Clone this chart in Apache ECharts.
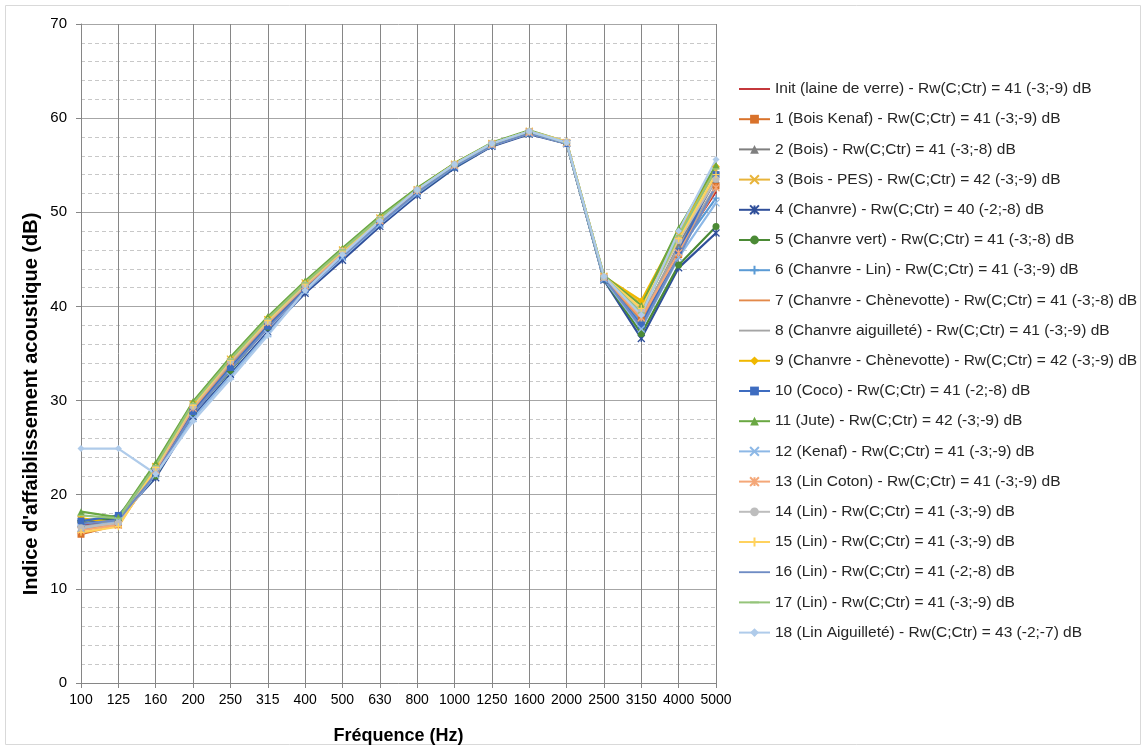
<!DOCTYPE html>
<html>
<head>
<meta charset="utf-8">
<title>Indice d'affaiblissement acoustique</title>
<script src="https://cdn.jsdelivr.net/npm/echarts@6/dist/echarts.min.js"></script>
<style>
  html, body { margin: 0; padding: 0; background: #fff; }
  #main { width: 1146px; height: 750px; }
</style>
</head>
<body>
<div id="main"></div>
<script>
  // fréquences (Hz)
  var frequences = ['100', '125', '160', '200', '250', '315', '400', '500', '630', '800', '1000', '1250', '1600', '2000', '2500', '3150', '4000', '5000'];

  var noms = [
    'Init (laine de verre) - Rw(C;Ctr) = 41 (-3;-9) dB',
    '1 (Bois Kenaf) - Rw(C;Ctr) = 41 (-3;-9) dB',
    '2 (Bois) - Rw(C;Ctr) = 41 (-3;-8) dB',
    '3 (Bois - PES) - Rw(C;Ctr) = 42 (-3;-9) dB',
    '4 (Chanvre) - Rw(C;Ctr) = 40 (-2;-8) dB',
    '5 (Chanvre vert) - Rw(C;Ctr) = 41 (-3;-8) dB',
    '6 (Chanvre - Lin) - Rw(C;Ctr) = 41 (-3;-9) dB',
    '7 (Chanvre - Chènevotte) - Rw(C;Ctr) = 41 (-3;-8) dB',
    '8 (Chanvre aiguilleté) - Rw(C;Ctr) = 41 (-3;-9) dB',
    '9 (Chanvre - Chènevotte) - Rw(C;Ctr) = 42 (-3;-9) dB',
    '10 (Coco) - Rw(C;Ctr) = 41 (-2;-8) dB',
    '11 (Jute) - Rw(C;Ctr) = 42 (-3;-9) dB',
    '12 (Kenaf) - Rw(C;Ctr) = 41 (-3;-9) dB',
    '13 (Lin Coton) - Rw(C;Ctr) = 41 (-3;-9) dB',
    '14 (Lin) - Rw(C;Ctr) = 41 (-3;-9) dB',
    '15 (Lin) - Rw(C;Ctr) = 41 (-3;-9) dB',
    '16 (Lin) - Rw(C;Ctr) = 41 (-2;-8) dB',
    '17 (Lin) - Rw(C;Ctr) = 41 (-3;-9) dB',
    '18 (Lin Aiguilleté) - Rw(C;Ctr) = 43 (-2;-7) dB'
  ];

  // valeurs en dB
  var init    = [16.8, 17.2, 22.7, 29.3, 34.0, 38.2, 42.1, 45.7, 49.1, 52.2, 54.9, 57.1, 58.4, 57.3, 43.1, 38.8, 46.2, 52.2];
  var serie1  = [15.8, 16.8, 22.6, 29.2, 33.9, 38.2, 42.1, 45.7, 49.1, 52.2, 54.9, 57.1, 58.4, 57.3, 43.0, 38.5, 45.5, 52.8];
  var serie2  = [16.5, 17.3, 22.9, 29.3, 34.1, 38.4, 42.3, 45.8, 49.2, 52.3, 55.0, 57.2, 58.5, 57.4, 43.0, 38.7, 46.5, 53.5];
  var serie3  = [17.4, 16.8, 23.0, 29.6, 34.4, 38.6, 42.5, 46.0, 49.4, 52.4, 55.1, 57.3, 58.6, 57.4, 43.2, 40.3, 47.6, 54.5];
  var serie4  = [16.9, 17.5, 21.8, 28.3, 32.8, 37.3, 41.4, 44.9, 48.5, 51.8, 54.7, 57.0, 58.3, 57.3, 42.8, 36.6, 44.1, 47.8];
  var serie5  = [17.2, 17.6, 22.0, 28.7, 33.2, 37.8, 41.9, 45.4, 48.9, 52.0, 54.8, 57.1, 58.4, 57.3, 42.9, 37.1, 44.4, 48.5];
  var serie6  = [16.6, 17.1, 22.6, 29.0, 33.8, 38.1, 42.0, 45.6, 49.0, 52.2, 55.0, 57.2, 58.5, 57.4, 43.0, 38.3, 46.0, 51.5];
  var serie7  = [16.3, 16.9, 22.5, 29.1, 33.9, 38.2, 42.1, 45.7, 49.1, 52.2, 54.9, 57.1, 58.4, 57.3, 43.0, 38.6, 45.8, 52.5];
  var serie8  = [16.6, 17.0, 22.7, 29.2, 34.0, 38.3, 42.2, 45.8, 49.2, 52.3, 55.0, 57.2, 58.5, 57.4, 43.1, 38.9, 46.3, 52.8];
  var serie9  = [17.5, 17.0, 23.2, 29.8, 34.5, 38.8, 42.6, 46.1, 49.5, 52.5, 55.2, 57.3, 58.6, 57.5, 43.2, 40.6, 48.0, 54.9];
  var serie10 = [17.2, 17.8, 22.3, 28.8, 33.5, 37.9, 41.8, 45.3, 48.8, 52.0, 54.8, 57.1, 58.4, 57.3, 42.9, 38.0, 45.8, 54.0];
  var serie11 = [18.2, 17.6, 23.4, 29.9, 34.6, 38.9, 42.7, 46.2, 49.6, 52.6, 55.2, 57.4, 58.7, 57.5, 43.3, 40.1, 48.3, 55.0];
  var serie12 = [16.4, 17.2, 22.1, 28.1, 32.6, 37.1, 41.6, 45.2, 48.7, 52.0, 54.9, 57.1, 58.4, 57.3, 42.9, 37.6, 45.2, 51.0];
  var serie13 = [16.2, 16.8, 22.6, 29.2, 34.1, 38.3, 42.2, 45.7, 49.1, 52.3, 55.0, 57.2, 58.5, 57.4, 43.1, 38.8, 45.7, 52.6];
  var serie14 = [16.5, 17.0, 22.8, 29.4, 34.2, 38.4, 42.3, 45.9, 49.3, 52.4, 55.1, 57.3, 58.6, 57.5, 43.1, 39.5, 47.0, 53.5];
  var serie15 = [16.0, 16.6, 22.9, 29.5, 34.3, 38.5, 42.4, 45.9, 49.3, 52.4, 55.1, 57.3, 58.6, 57.5, 43.2, 39.8, 47.2, 54.0];
  var serie16 = [16.9, 17.3, 22.2, 28.6, 33.3, 37.7, 41.7, 45.3, 48.8, 52.1, 54.9, 57.1, 58.4, 57.3, 43.0, 37.8, 45.3, 52.8];
  var serie17 = [17.8, 17.5, 23.1, 29.7, 34.4, 38.7, 42.5, 46.0, 49.4, 52.4, 55.1, 57.3, 58.6, 57.4, 43.2, 39.3, 47.5, 54.6];
  var serie18 = [24.9, 24.9, 22.2, 27.8, 32.3, 36.9, 41.7, 45.5, 49.1, 52.4, 55.1, 57.3, 58.6, 57.4, 43.2, 39.1, 48.0, 55.6];

  var valeurs = [init, serie1, serie2, serie3, serie4, serie5, serie6, serie7, serie8, serie9,
    serie10, serie11, serie12, serie13, serie14, serie15, serie16, serie17, serie18];

  var couleurs = ['#C0282D', '#D9722B', '#7F7F7F', '#E8B43A', '#2F4F9A', '#4B8A35', '#5B9BD5', '#E3894A',
    '#A5A5A5', '#F0B800', '#3E6CC0', '#6AA843', '#8DB8E6', '#F4A778', '#BDBDBD', '#FFD25E',
    '#6F8CC4', '#95C47A', '#AFCBEA'];

  var croix = 'path://M0,0L10,10M10,0L0,10';
  var etoile = 'path://M0,0L10,10M10,0L0,10M5,0L5,10';
  var plus = 'path://M5,0L5,10M0,5L10,5';
  var tiret = 'path://M0,0L0,0M0,4L10,4L10,6L0,6ZM10,10L10,10';
  // icône de légende pour les séries sans marqueur : un simple trait
  var trait = 'path://M0,0L0,0M0,4.1L30,4.1L30,5.9L0,5.9ZM30,10L30,10';
  var symboles = ['none', 'rect', 'triangle', croix, etoile, 'circle', plus, 'none',
    'none', 'diamond', 'rect', 'triangle', croix, etoile, 'circle', plus,
    'none', tiret, 'diamond'];

  var myChart = echarts.init(document.getElementById('main'));

  var series = valeurs.map(function (data, i) {
    var sym = symboles[i];
    var ligne = sym === croix || sym === etoile || sym === plus;
    return {
      name: noms[i],
      type: 'line',
      data: data,
      symbol: sym,
      symbolSize: 7,
      symbolKeepAspect: true,
      showSymbol: sym !== 'none',
      lineStyle: { width: 2.2, color: couleurs[i] },
      itemStyle: {
        color: couleurs[i],
        borderColor: couleurs[i],
        borderWidth: ligne ? 1.3 : 0
      },
      emphasis: { disabled: true }
    };
  });

  var legende = noms.map(function (nom, i) {
    var item = { name: nom };
    if (symboles[i] === 'none') {
      item.icon = trait;
      item.itemStyle = { color: couleurs[i], opacity: 1 };
    }
    return item;
  });

  myChart.setOption({
    animation: false,
    textStyle: { fontFamily: 'Liberation Sans, Arial, sans-serif' },
    graphic: [{
      type: 'rect',
      shape: { x: 5.5, y: 5.5, width: 1135, height: 739 },
      style: { fill: 'none', stroke: '#D9D9D9', lineWidth: 1 },
      silent: true
    }, {
      type: 'text',
      x: 31,
      y: 404,
      rotation: Math.PI / 2,
      style: {
        text: "Indice d'affaiblissement acoustique (dB)",
        fontSize: 20,
        fontWeight: 'bold',
        fontFamily: 'Liberation Sans, Arial, sans-serif',
        fill: '#000',
        align: 'center',
        verticalAlign: 'middle'
      },
      silent: true
    }],
    grid: {
      left: 81,
      right: 430,
      top: 24,
      bottom: 61
    },
    legend: {
      orient: 'vertical',
      left: 733,
      top: 76,
      itemWidth: 31,
      itemHeight: 11,
      itemGap: 14.2,
      data: legende,
      textStyle: { fontSize: 15.5, color: '#262626' }
    },
    xAxis: {
      type: 'category',
      data: frequences,
      boundaryGap: false,
      name: 'Fréquence (Hz)',
      nameLocation: 'middle',
      nameGap: 44,
      nameTextStyle: { fontSize: 18, fontWeight: 'bold', color: '#000' },
      axisLine: { lineStyle: { color: '#868686', width: 1 } },
      axisTick: { show: true, length: 5, alignWithLabel: true, lineStyle: { color: '#868686' } },
      axisLabel: { fontSize: 14, color: '#000', margin: 10, interval: 0 },
      splitLine: { show: true, interval: 0, lineStyle: { color: '#868686', width: 1 } }
    },
    yAxis: {
      type: 'value',
      min: 0,
      max: 70,
      interval: 10,
      axisLine: { show: true, lineStyle: { color: '#868686', width: 1 } },
      axisTick: { show: true, length: 5, lineStyle: { color: '#868686' } },
      axisLabel: { fontSize: 15, color: '#000', margin: 14 },
      splitLine: { show: true, lineStyle: { color: '#A6A6A6', width: 1 } },
      minorTick: { show: false, splitNumber: 5 },
      minorSplitLine: { show: true, lineStyle: { color: '#C8C8C8', type: [4, 3], width: 1 } }
    },
    series: series
  });

  window.addEventListener('resize', function () {
    myChart.resize();
  });
</script>
</body>
</html>
